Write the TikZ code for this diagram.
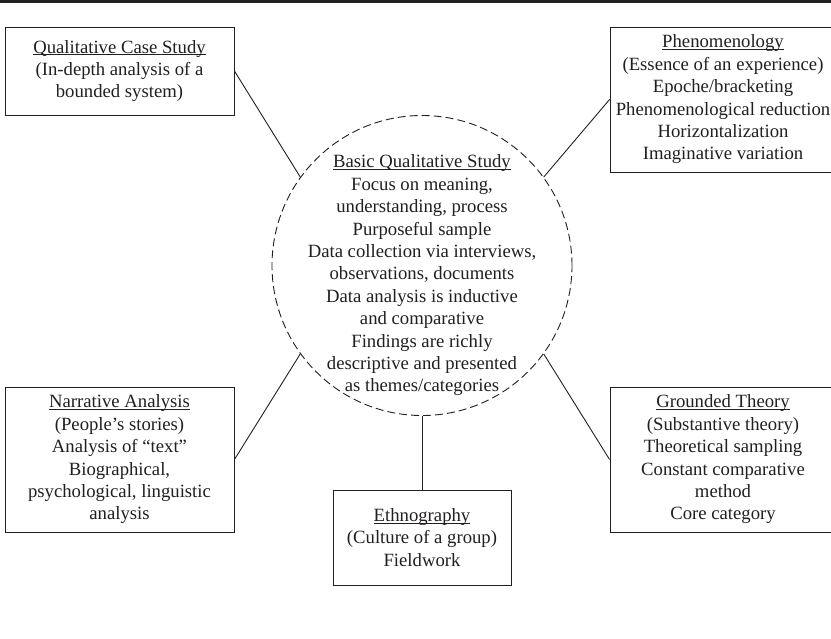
\documentclass[tikz,border=0pt]{standalone}
\usepackage{fontspec}
\setmainfont{Liberation Serif}
\definecolor{ink}{HTML}{231F20}
\newcommand{\ttl}[1]{\setbox0=\hbox{#1}\rlap{\rule[-1.8pt]{\wd0}{0.75pt}}\box0}
\begin{document}
\begin{tikzpicture}[x=1pt,y=-1pt,
  box/.style={draw=ink,line width=0.9pt,inner sep=0pt,align=center,text=ink,
    font=\fontsize{18.7}{22.4}\selectfont},
  hub/.style={circle,draw=ink,line width=0.9pt,dash pattern=on 8pt off 4pt,
    inner sep=0pt,minimum size=300pt,align=center,text=ink,
    font=\fontsize{18.7}{22.4}\selectfont},
  link/.style={draw=ink,line width=0.9pt}]
\useasboundingbox (0,0) rectangle (831,638);
\fill[white] (0,0) rectangle (831,638);
\draw[ink,line width=3pt] (0,1.5) -- (831,1.5);

\node[hub] (c) at (422,265.5) {};
\node[text=ink,align=center,inner sep=0pt,font=\fontsize{18.7}{22.4}\selectfont] (ct) at (422,275.5)
  {\ttl{Basic Qualitative Study}\\ Focus on meaning,\\ understanding, process\\
   Purposeful sample\\ Data collection via interviews,\\ observations, documents\\
   Data analysis is inductive\\ and comparative\\ Findings are richly\\
   descriptive and presented\\ as themes/categories};

\node[box,minimum width=229pt,minimum height=88pt] (qcs) at (119.5,71)
  {\ttl{Qualitative Case Study}\\ (In-depth analysis of a\\ bounded system)\rule[-2pt]{0pt}{0pt}};
\node[box,minimum width=226pt,minimum height=145pt] (phen) at (723,99.5)
  {\ttl{Phenomenology}\\ (Essence of an experience)\\ Epoche/bracketing\\
   Phenomenological reduction\\ Horizontalization\\ Imaginative variation\rule[-2pt]{0pt}{0pt}};
\node[box,minimum width=229pt,minimum height=145pt] (nar) at (119.5,459.5)
  {\ttl{Narrative Analysis}\\ (People’s stories)\\ Analysis of “text”\\
   Biographical,\\ psychological, linguistic\\ analysis\rule[-2pt]{0pt}{0pt}};
\node[box,minimum width=226pt,minimum height=145pt] (gt) at (723,459.5)
  {\ttl{Grounded Theory}\\ (Substantive theory)\\ Theoretical sampling\\
   Constant comparative\\ method\\ Core category\rule[-2pt]{0pt}{0pt}};
\node[box,minimum width=178pt,minimum height=95pt] (eth) at (422,537.5)
  {\ttl{Ethnography}\\ (Culture of a group)\\ Fieldwork};

\draw[link] (qcs.east) -- (c.144);
\draw[link] (phen.west) -- (c.36);
\draw[link] (nar.east) -- (c.216);
\draw[link] (gt.west) -- (c.324);
\draw[link] (eth.north) -- (c.south);
\end{tikzpicture}
\end{document}
